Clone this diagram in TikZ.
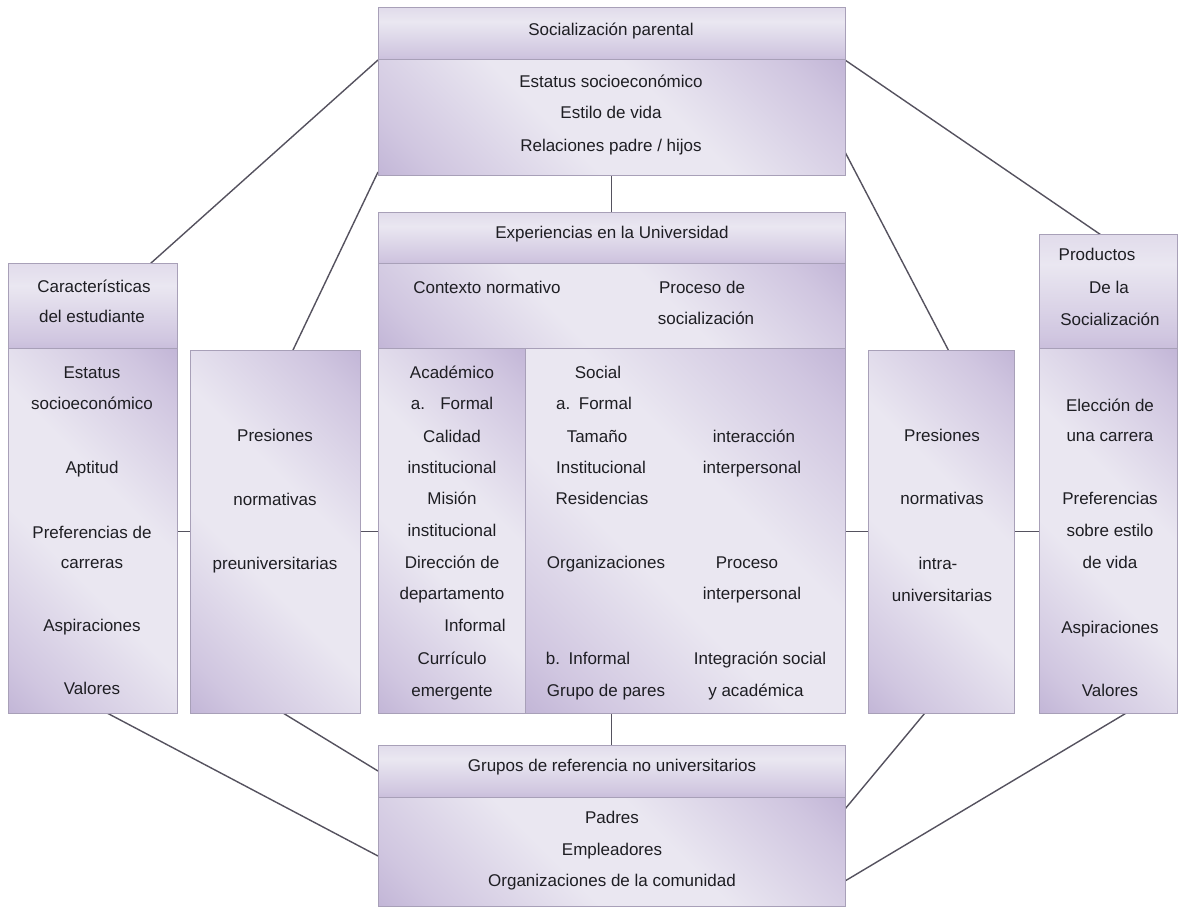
\documentclass[tikz,border=0pt]{standalone}
\usepackage{fontspec}
\setmainfont{Liberation Sans}
\usetikzlibrary{calc}
\definecolor{lavL}{RGB}{234,231,241}
\definecolor{lavM}{RGB}{208,198,224}
\definecolor{lavD}{RGB}{168,151,197}
\definecolor{bordc}{RGB}{168,160,184}
\definecolor{linec}{RGB}{85,82,95}
\definecolor{txtc}{RGB}{30,30,35}
\pgfdeclarehorizontalshading{bodysh}{100bp}{color(0bp)=(lavD); color(22bp)=(lavM); color(42bp)=(lavL); color(58bp)=(lavL); color(78bp)=(lavM); color(100bp)=(lavD)}
\pgfdeclareverticalshading{hdrsh}{100bp}{color(0bp)=(lavD); color(30bp)=(lavM); color(62bp)=(lavL); color(100bp)=(lavM)}
\pgfdeclarelayer{bg}
\pgfsetlayers{bg,main}
\tikzset{
  box/.style={draw=bordc, line width=1pt, shading=bodysh, shading angle=45, inner sep=0pt, outer sep=0pt, anchor=north west},
  hdr/.style={box, shading=hdrsh, shading angle=0},
  conn/.style={draw=linec, line width=1.4pt},
  lbl/.style={anchor=base, yshift=-6pt, inner sep=0pt, text=txtc, font=\fontsize{17}{20}\selectfont}
}
\newcommand\bx[6]{\node[#1, minimum width=#5pt, minimum height=#6pt] (#2) at (#3,#4) {};}
\begin{document}
\begin{tikzpicture}[x=1pt,y=-1pt]
\useasboundingbox (0,0) rectangle (1178,909);
% boxes
\bx{hdr}{topH}{378}{8}{467}{52}
\bx{box}{topB}{378}{60}{467}{116}
\bx{hdr}{expH}{378}{213}{467}{51}
\bx{box}{expC}{378}{264}{467}{84}
\bx{box}{acad}{378}{348}{147}{365}
\bx{box}{soc}{525}{348}{320}{365}
\bx{hdr}{carH}{8}{264}{169}{84}
\bx{box}{carB}{8}{348}{169}{365}
\bx{box}{preP}{190}{350}{170}{363}
\bx{box}{intP}{868}{350}{146}{363}
\bx{hdr}{prodH}{1039}{235}{138}{113}
\bx{box}{prodB}{1039}{348}{138}{365}
\bx{hdr}{grpH}{378}{745}{467}{52}
\bx{box}{grpB}{378}{797}{467}{109}
% connectors
\begin{pgfonlayer}{bg}
\fill[white] (0,0) rectangle (1178,909);
\draw[conn] (topH.south west) -- ($(carH.north west)!0.84!(carH.north east)$);
\draw[conn] ($(topB.south west)+(0,-4)$) -- ($(preP.north west)!0.606!(preP.north east)$);
\draw[conn] (topH.south east) -- ($(prodH.north west)!0.45!(prodH.north east)$);
\draw[conn] ($(topB.south east)+(0,-24)$) -- ($(intP.north west)!0.55!(intP.north east)$);
\draw[conn] (topB.south) -- (expH.north);
\draw[conn] (carB.east |- preP.west) -- (preP.west);
\draw[conn] (preP.east) -- (preP.east -| acad.west);
\draw[conn] (intP.west -| soc.east) -- (intP.west);
\draw[conn] (intP.east) -- (intP.east -| prodB.west);
\draw[conn] (grpH.north |- soc.south) -- (grpH.north);
\draw[conn] ($(carB.south west)!0.586!(carB.south east)$) -- ($(grpB.north west)+(0,59)$);
\draw[conn] ($(preP.south west)!0.547!(preP.south east)$) -- (grpH.west);
\draw[conn] ($(intP.south west)!0.39!(intP.south east)$) -- ($(grpB.north east)+(0,12)$);
\draw[conn] ($(prodB.south west)!0.633!(prodB.south east)$) -- ($(grpB.north east)+(0,84)$);
\end{pgfonlayer}
% texts: top and bottom
\foreach \x/\y/\t [count=\i] in {
  611/30/{Socialización parental},
  611/82/{Estatus socioeconómico},
  611/113/{Estilo de vida},
  611/146/{Relaciones padre / hijos},
  612/233/{Experiencias en la Universidad},
  487/288/{Contexto normativo},
  702/288/{Proceso de},
  706/318/{socialización},
  612/765/{Grupos de referencia no universitarios},
  612/817/{Padres},
  612/849/{Empleadores},
  612/880/{Organizaciones de la comunidad}}
  {\node[lbl] (T\i) at (\x,\y) {\t};}
% academic column
\foreach \x/\y/\t [count=\i] in {
  452/372/{Académico},
  452/403/{a.\hspace{0.9em}Formal},
  452/436/{Calidad},
  452/467/{institucional},
  452/498/{Misión},
  452/530/{institucional},
  452/562/{Dirección de},
  452/593/{departamento},
  475/625/{Informal},
  452/658/{Currículo},
  452/690/{emergente}}
  {\node[lbl] (A\i) at (\x,\y) {\t};}
% social column
\foreach \x/\y/\t [count=\i] in {
  598/372/{Social},
  594/403/{a.\hspace{0.5em}Formal},
  597/436/{Tamaño},
  601/467/{Institucional},
  602/498/{Residencias},
  606/562/{Organizaciones},
  588/658/{b.\hspace{0.5em}Informal},
  606/690/{Grupo de pares},
  754/436/{interacción},
  752/467/{interpersonal},
  747/562/{Proceso},
  752/593/{interpersonal},
  760/658/{Integración social},
  756/690/{y académica}}
  {\node[lbl] (S\i) at (\x,\y) {\t};}
% left boxes
\foreach \x/\y/\t [count=\i] in {
  94/287/{Características},
  92/317/{del estudiante},
  92/372/{Estatus},
  92/403/{socioeconómico},
  92/467/{Aptitud},
  92/532/{Preferencias de},
  92/562/{carreras},
  92/625/{Aspiraciones},
  92/688/{Valores},
  275/435/{Presiones},
  275/499/{normativas},
  275/563/{preuniversitarias}}
  {\node[lbl] (C\i) at (\x,\y) {\t};}
% right boxes
\foreach \x/\y/\t [count=\i] in {
  942/435/{Presiones},
  942/498/{normativas},
  938/563/{intra-},
  942/595/{universitarias},
  1097/255/{Productos},
  1109/288/{De la},
  1110/320/{Socialización},
  1110/405/{Elección de},
  1110/435/{una carrera},
  1110/498/{Preferencias},
  1110/530/{sobre estilo},
  1110/562/{de vida},
  1110/627/{Aspiraciones},
  1110/690/{Valores}}
  {\node[lbl] (R\i) at (\x,\y) {\t};}
\end{tikzpicture}
\end{document}
